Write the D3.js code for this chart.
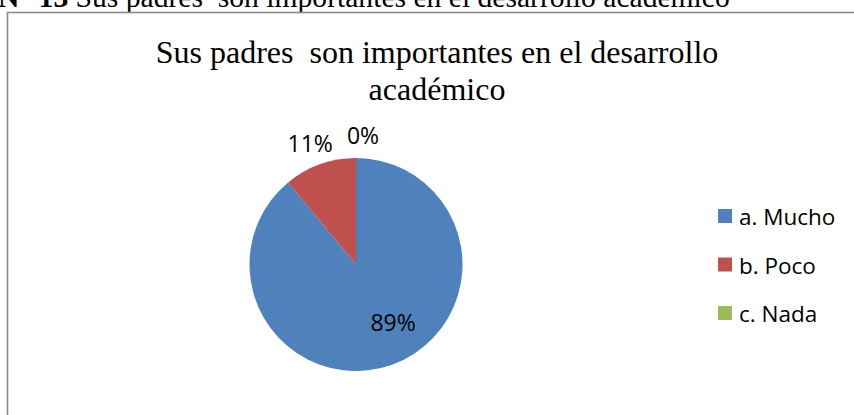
<!DOCTYPE html>
<html>
<head>
<meta charset="utf-8">
<script src="https://cdn.jsdelivr.net/npm/d3@7"></script>
<style>
  html, body { margin: 0; padding: 0; background: #fff; }
  svg { display: block; }
  text { white-space: pre; }
</style>
</head>
<body>
<svg id="chart" width="854" height="415"></svg>
<script>
// ---- data ----
const categories = ["a. Mucho", "b. Poco", "c. Nada"];
const values = [89, 11, 0];
const percentLabels = ["89%", "11%", "0%"];
const colors = ["#4F81BD", "#C0504D", "#9BBB59"];
const captionBold = "N° 13";
const captionText = " Sus padres  son importantes en el desarrollo académico";
const titleLines = ["Sus padres  son importantes en el desarrollo", "académico"];

// ---- layout ----
const svg = d3.select("#chart");
const cx = 356, cy = 264.5, R = 106.5;

// caption (clipped at the top, as in the reference)
const cap = svg.append("text")
  .attr("x", -2).attr("y", 6.5)
  .attr("font-family", "'Liberation Serif', 'Times New Roman', serif")
  .attr("font-size", 29.6).attr("fill", "#000");
cap.append("tspan").attr("font-weight", "bold").text(captionBold);
cap.append("tspan").text(captionText);

// chart frame
svg.append("rect")
  .attr("x", 7.5).attr("y", 12.5)
  .attr("width", 900).attr("height", 450)
  .attr("fill", "none").attr("stroke", "#8a8a8a").attr("stroke-width", 1.6);

// title
const title = svg.append("text")
  .attr("font-family", "'Liberation Serif', 'Times New Roman', serif")
  .attr("font-size", 32).attr("fill", "#000").attr("text-anchor", "middle");
title.selectAll("tspan").data(titleLines).join("tspan")
  .attr("x", 437).attr("y", (d, i) => 63 + i * 37)
  .text(d => d);

// pie
const pie = d3.pie().sort(null).value(d => d)
  .startAngle(0).endAngle(2 * Math.PI);
const arcs = pie(values);
const arc = d3.arc().innerRadius(0).outerRadius(R);
const g = svg.append("g").attr("transform", `translate(${cx},${cy})`);
g.selectAll("path").data(arcs).join("path")
  .attr("d", arc)
  .attr("fill", (d, i) => colors[i]);

// labels: large slice inside, small slices outside end
const inArc = d3.arc().innerRadius(68).outerRadius(68);
const outArc = d3.arc().innerRadius(R + 23).outerRadius(R + 23);
g.selectAll("text.lbl").data(arcs).join("text")
  .attr("class", "lbl")
  .attr("font-family", "'Open Sans', 'Noto Sans', sans-serif")
  .attr("font-size", 23).attr("fill", "#000")
  .attr("text-anchor", "middle").attr("dominant-baseline", "central")
  .attr("transform", (d, i) => {
    const share = (d.endAngle - d.startAngle) / (2 * Math.PI);
    let p;
    if (share > 0.5) {
      const c = inArc.centroid(d);
      p = [c[0] + 14, c[1] - 6];
    } else {
      p = outArc.centroid(d);
      if (share === 0) p = [p[0] + 7, p[1]];
      else p = [p[0] - 2, p[1]];
    }
    return `translate(${p[0]},${p[1]})`;
  })
  .text((d, i) => percentLabels[i]);

// legend
const leg = svg.append("g").attr("transform", "translate(718,209)");
const items = leg.selectAll("g").data(categories).join("g")
  .attr("transform", (d, i) => `translate(0,${i * 48.5})`);
items.append("rect").attr("width", 14).attr("height", 14)
  .attr("fill", (d, i) => colors[i]);
items.append("text")
  .attr("x", 21).attr("y", 16)
  .attr("font-family", "'Open Sans', 'Noto Sans', sans-serif")
  .attr("font-size", 22.5).attr("fill", "#000")
  .text(d => d);
</script>
</body>
</html>
